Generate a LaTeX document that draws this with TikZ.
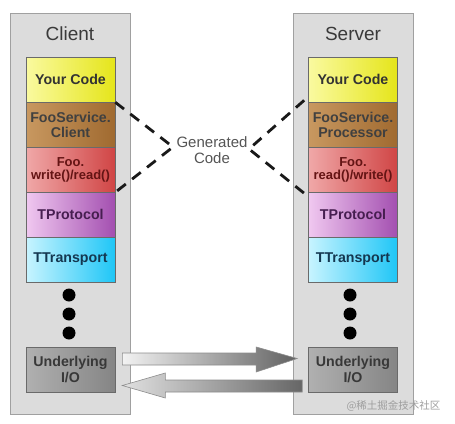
\documentclass[tikz,border=0pt]{standalone}
\usepackage{fontspec}
\setmainfont{Liberation Sans}
\newfontfamily\cjkfont{Noto Sans CJK SC}
\usetikzlibrary{calc}
\definecolor{panelfill}{HTML}{DCDCDC}
\definecolor{panelline}{HTML}{A0A0A0}
\definecolor{yelbase}{HTML}{E5E51A}
\definecolor{yellight}{HTML}{FAFAA0}
\definecolor{brnbase}{HTML}{A06A30}
\definecolor{brnlight}{HTML}{C89860}
\definecolor{redbase}{HTML}{D04545}
\definecolor{redlight}{HTML}{F0A8A8}
\definecolor{purbase}{HTML}{A34FB0}
\definecolor{purlight}{HTML}{F0C8F0}
\definecolor{cyanbase}{HTML}{1FC6F6}
\definecolor{cyanlight}{HTML}{C8F4FF}
\definecolor{graybase}{HTML}{858585}
\definecolor{graylight}{HTML}{B0B0B0}
\definecolor{boxline}{HTML}{6A6A6A}
\definecolor{titletext}{HTML}{3A3A3A}
\definecolor{gentext}{HTML}{555555}
\tikzset{
  panel/.style={draw=panelline, fill=panelfill, line width=1pt, minimum width=120pt, minimum height=401pt, inner sep=0pt},
  layer/.style={draw=boxline, line width=0.6pt, minimum width=89pt, minimum height=45pt, inner sep=0pt, align=center,
    font=\fontsize{14.2}{15}\selectfont\bfseries},
  small/.style={font=\fontsize{13}{13}\selectfont\bfseries},
  yel/.style={left color=yellight, middle color=yelbase, right color=yelbase, text=black!80},
  brn/.style={left color=brnlight, middle color=brnbase, right color=brnbase, text=black!75},
  rd/.style={left color=redlight, middle color=redbase, right color=redbase, text={rgb,255:red,100;green,20;blue,20}},
  pur/.style={left color=purlight, middle color=purbase, right color=purbase, text={rgb,255:red,70;green,30;blue,80}},
  cyn/.style={left color=cyanlight, middle color=cyanbase, right color=cyanbase, text={rgb,255:red,20;green,55;blue,80}},
  gry/.style={left color=graylight, middle color=graybase, right color=graybase, text=black!78},
  title/.style={font=\fontsize{19}{20}\selectfont, text=titletext},
  dotnode/.style={circle, fill=black, minimum size=13pt, inner sep=0pt},
  gen/.style={draw=black!90, line width=2.8pt, dash pattern=on 11pt off 8pt},
  bigarrow/.style={draw=black!45, line width=0.6pt},
}
\begin{document}
\begin{tikzpicture}[x=1pt,y=-1pt]
\useasboundingbox (0,0) rectangle (455,423);
\fill[white] (0,0) rectangle (455,423);
% panels
\node[panel] (cpanel) at (70,213.5) {};
\node[panel] (spanel) at (353,213.5) {};
\node[title] (ctitle) at (70,34) {Client};
\node[title] (stitle) at (353,34) {Server};
% client layers
\node[layer,yel] (cyour) at (70.5,79.5) {Your Code};
\node[layer,brn] (cfoo) at (70.5,124.5) {FooService.\\Client};
\node[layer,rd,small] (cwrite) at (70.5,169.5) {Foo.\\write()/read()};
\node[layer,pur] (cprot) at (70.5,214.5) {TProtocol};
\node[layer,cyn] (ctrans) at (70.5,259.5) {TTransport};
\node[dotnode] (cd1) at (69,295) {};
\node[dotnode] (cd2) at (69,314) {};
\node[dotnode] (cd3) at (69,333) {};
\node[layer,gry,font=\fontsize{14.2}{16}\selectfont\bfseries] (cio) at (70.5,369.5) {Underlying\\I/O};
% server layers
\node[layer,yel] (syour) at (353,79.5) {Your Code};
\node[layer,brn] (sfoo) at (353,124.5) {FooService.\\Processor};
\node[layer,rd,small] (swrite) at (353,169.5) {Foo.\\read()/write()};
\node[layer,pur] (sprot) at (353,214.5) {TProtocol};
\node[layer,cyn] (strans) at (353,259.5) {TTransport};
\node[dotnode] (sd1) at (350,295) {};
\node[dotnode] (sd2) at (350,314) {};
\node[dotnode] (sd3) at (350,333) {};
\node[layer,gry,font=\fontsize{14.2}{16}\selectfont\bfseries] (sio) at (353,369.5) {Underlying\\I/O};
% generated code
\node[align=center, text=gentext, font=\fontsize{15}{16}\selectfont] (gen) at (212,150) {Generated\\Code};
\coordinate (cvtx) at (173,147);
\coordinate (svtx) at (249,149);
\draw[gen] (cyour.south east) -- (cvtx) -- (cwrite.south east);
\draw[gen] ($(syour.south west)+(-4,-2)$) -- (svtx) -- ($(swrite.south west)+(-4,1)$);
% arrows
\shade[bigarrow, left color=black!5, right color=black!62]
  ($(cio.east)+(7,-16.5)$) -- ($(sio.west)+(-52,-16.5)$) -- ($(sio.west)+(-52,-22.5)$)
  -- ($(sio.west)+(-11,-11)$) -- ($(sio.west)+(-52,2.5)$) -- ($(sio.west)+(-52,-4.5)$)
  -- ($(cio.east)+(7,-4.5)$) -- cycle;
\shade[bigarrow, left color=black!12, right color=black!60]
  ($(sio.west)+(-6,10.5)$) -- ($(cio.east)+(50,10.5)$) -- ($(cio.east)+(50,3.5)$)
  -- ($(cio.east)+(7,16)$) -- ($(cio.east)+(50,28.5)$) -- ($(cio.east)+(50,22.5)$)
  -- ($(sio.west)+(-6,22.5)$) -- cycle;
% watermark
\node[text=black!38, font=\cjkfont\fontsize{10.5}{11}\selectfont, anchor=east] (wm) at (444,406) {@稀土掘金技术社区};
\end{tikzpicture}
\end{document}
